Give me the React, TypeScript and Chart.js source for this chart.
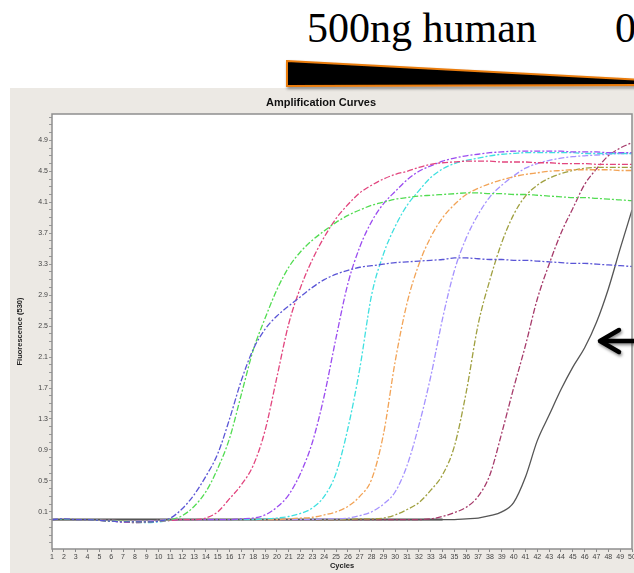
import React, { useEffect, useRef } from "react";
import { Chart, registerables } from "chart.js";

Chart.register(...registerables);

// ---------- data ----------
const cycles = [
  1, 2, 3, 4, 5, 6, 7, 8, 9, 10,
  11, 12, 13, 14, 15, 16, 17, 18, 19, 20,
  21, 22, 23, 24, 25, 26, 27, 28, 29, 30,
  31, 32, 33, 34, 35, 36, 37, 38, 39, 40,
  41, 42, 43, 44, 45, 46, 47, 48, 49, 50,
];

const yTickLabels = [0.1, 0.5, 0.9, 1.3, 1.7, 2.1, 2.5, 2.9, 3.3, 3.7, 4.1, 4.5, 4.9];

const blueValues = [
  0.0, 0.01, 0.0, 0.0, -0.01, -0.02, -0.03, -0.03, -0.03, -0.02,
  0.02, 0.14, 0.32, 0.56, 0.85, 1.3, 1.8, 2.2, 2.46, 2.63,
  2.76, 2.88, 3.0, 3.1, 3.17, 3.22, 3.26, 3.28, 3.3, 3.32,
  3.33, 3.34, 3.35, 3.36, 3.38, 3.38, 3.37, 3.36, 3.36, 3.35,
  3.35, 3.34, 3.33, 3.32, 3.31, 3.31, 3.3, 3.29, 3.28, 3.27,
];
const greenValues = [
  0.0, 0.0, 0.0, 0.0, -0.01, -0.02, -0.02, -0.03, -0.03, -0.02,
  0.0, 0.05, 0.17, 0.36, 0.66, 1.05, 1.62, 2.19, 2.6, 2.97,
  3.26, 3.46, 3.61, 3.73, 3.84, 3.93, 4.0, 4.06, 4.1, 4.14,
  4.16, 4.18, 4.19, 4.2, 4.21, 4.22, 4.22, 4.21, 4.21, 4.2,
  4.2, 4.19, 4.18, 4.17, 4.16, 4.16, 4.15, 4.14, 4.13, 4.12,
];
const pinkValues = [
  0.0, 0.0, 0.0, 0.0, -0.01, -0.02, -0.03, -0.04, -0.03, -0.02,
  -0.01, 0.0, 0.0, 0.02, 0.1, 0.27, 0.45, 0.7, 1.15, 1.84,
  2.53, 3.0, 3.36, 3.65, 3.89, 4.07, 4.22, 4.32, 4.4, 4.46,
  4.5, 4.55, 4.59, 4.61, 4.62, 4.63, 4.63, 4.63, 4.62, 4.62,
  4.62, 4.61, 4.61, 4.6, 4.6, 4.6, 4.59, 4.59, 4.59, 4.59,
];
const violetValues = [
  0.0, 0.0, 0.0, 0.0, -0.01, -0.02, -0.03, -0.03, -0.03, -0.02,
  -0.01, 0.0, 0.0, 0.0, 0.0, 0.0, 0.01, 0.02, 0.06, 0.16,
  0.32, 0.6, 1.0, 1.6, 2.35, 3.05, 3.52, 3.85, 4.08, 4.24,
  4.39, 4.5, 4.57, 4.63, 4.67, 4.7, 4.72, 4.74, 4.75, 4.76,
  4.76, 4.76, 4.76, 4.76, 4.75, 4.75, 4.75, 4.74, 4.74, 4.74,
];
const cyanValues = [
  0.0, 0.0, 0.0, 0.0, -0.01, -0.02, -0.03, -0.04, -0.04, -0.03,
  -0.01, 0.0, 0.0, 0.0, 0.0, 0.0, 0.0, 0.0, 0.01, 0.02,
  0.04, 0.08, 0.15, 0.3, 0.6, 1.18, 1.95, 2.9, 3.43, 3.79,
  4.06, 4.25, 4.42, 4.53, 4.6, 4.64, 4.67, 4.7, 4.72, 4.73,
  4.74, 4.74, 4.74, 4.74, 4.74, 4.73, 4.73, 4.73, 4.73, 4.73,
];
const orangeValues = [
  0.0, 0.0, 0.0, 0.0, -0.01, -0.02, -0.02, -0.03, -0.03, -0.02,
  -0.01, 0.0, 0.0, 0.0, 0.0, 0.0, 0.0, 0.0, 0.0, 0.0,
  0.01, 0.02, 0.03, 0.06, 0.1, 0.17, 0.3, 0.52, 1.1, 2.05,
  2.8, 3.3, 3.65, 3.9, 4.07, 4.2, 4.28, 4.34, 4.39, 4.43,
  4.46, 4.48, 4.5, 4.51, 4.52, 4.52, 4.52, 4.52, 4.51, 4.51,
];
const lavenderValues = [
  0.0, 0.0, 0.0, 0.0, -0.01, -0.01, -0.02, -0.02, -0.02, -0.01,
  0.0, 0.0, 0.0, 0.0, 0.0, 0.0, 0.0, 0.0, 0.0, 0.0,
  0.0, 0.0, 0.0, 0.01, 0.01, 0.02, 0.05, 0.1, 0.2, 0.36,
  0.7, 1.22, 1.85, 2.6, 3.22, 3.64, 3.94, 4.17, 4.32, 4.44,
  4.54, 4.6, 4.64, 4.67, 4.69, 4.7, 4.71, 4.72, 4.73, 4.73,
];
const oliveValues = [
  0.0, 0.0, 0.0, 0.0, -0.01, -0.01, -0.02, -0.02, -0.02, -0.01,
  0.0, 0.0, 0.0, 0.0, 0.0, 0.0, 0.0, 0.0, 0.0, 0.0,
  0.0, 0.0, 0.0, 0.0, 0.0, 0.0, 0.01, 0.01, 0.02, 0.06,
  0.13, 0.22, 0.38, 0.58, 0.95, 1.65, 2.52, 3.1, 3.58, 3.94,
  4.18, 4.32, 4.41, 4.47, 4.51, 4.54, 4.55, 4.55, 4.55, 4.55,
];
const maroonValues = [
  0.0, 0.0, 0.0, 0.0, -0.01, -0.01, -0.02, -0.02, -0.02, -0.01,
  0.0, 0.0, 0.0, 0.0, 0.0, 0.0, 0.0, 0.0, 0.0, 0.0,
  0.0, 0.0, 0.0, 0.0, 0.0, 0.0, 0.0, 0.0, 0.0, 0.0,
  0.0, 0.0, 0.01, 0.04, 0.09, 0.16, 0.3, 0.58, 1.12, 1.7,
  2.25, 2.85, 3.3, 3.7, 4.02, 4.33, 4.53, 4.7, 4.8, 4.87,
];
const blackValues = [
  0.0, 0.0, 0.0, 0.0, 0.0, 0.0, 0.0, 0.0, 0.0, 0.0,
  0.0, 0.0, 0.0, 0.0, 0.0, 0.0, 0.0, 0.0, 0.0, 0.0,
  0.0, 0.0, 0.0, 0.0, 0.0, 0.0, 0.0, 0.0, 0.0, 0.0,
  0.0, 0.0, 0.0, 0.0, 0.0, 0.01, 0.02, 0.05, 0.1, 0.22,
  0.55, 1.02, 1.35, 1.68, 1.97, 2.22, 2.55, 2.98, 3.5, 4.0,
];
const ntcValues = [
  0.0, 0.0, 0.0, 0.0, 0.0, 0.0, 0.0, 0.0, 0.0, 0.0,
  0.0, 0.0, 0.0, 0.0, 0.0, 0.0, 0.0, 0.0, 0.0, 0.0,
  0.0, 0.0, 0.0, 0.0, 0.0, 0.0, 0.0, 0.0, 0.0, 0.0,
  0.0, 0.0, 0.0, 0.0,
];

const PANEL = "#ece9e4";
const FONT = "'Liberation Sans', Arial, sans-serif";

const DASH = [6, 2, 2, 2];

const seriesDefs = [
  { label: "S1", values: blueValues, color: "#5a55d6", dash: DASH, width: 1.3 },
  { label: "S2", values: greenValues, color: "#52dc52", dash: DASH, width: 1.3 },
  { label: "S3", values: pinkValues, color: "#e2457e", dash: DASH, width: 1.3 },
  { label: "S4", values: violetValues, color: "#9b4cf0", dash: DASH, width: 1.3 },
  { label: "S5", values: cyanValues, color: "#3fe0e0", dash: DASH, width: 1.3 },
  { label: "S6", values: orangeValues, color: "#f2a356", dash: DASH, width: 1.3 },
  { label: "S7", values: lavenderValues, color: "#a592ff", dash: DASH, width: 1.3 },
  { label: "S8", values: oliveValues, color: "#a0a040", dash: DASH, width: 1.3 },
  { label: "S9", values: maroonValues, color: "#a63a6a", dash: DASH, width: 1.3 },
  { label: "S10", values: blackValues, color: "#555555", dash: [], width: 1.3 },
  { label: "NTC", values: ntcValues, color: "#a5a5a5", dash: [], width: 3 },
];

function App() {
  const canvasRef = useRef<HTMLCanvasElement | null>(null);

  useEffect(() => {
    const canvas = canvasRef.current;
    if (!canvas) return;

    const bgPlugin = {
      id: "panelBg",
      beforeDraw(chart: any) {
        const c = chart.ctx;
        const a = chart.chartArea;
        c.save();
        c.fillStyle = PANEL;
        c.fillRect(0, 0, chart.width, chart.height);
        c.fillStyle = "#ffffff";
        c.fillRect(a.left, a.top, a.right - a.left, a.bottom - a.top);
        c.restore();
      },
      afterDraw(chart: any) {
        const c = chart.ctx;
        const a = chart.chartArea;
        c.save();
        c.strokeStyle = "#8e8e8e";
        c.lineWidth = 1.5;
        c.strokeRect(a.left, a.top, a.right - a.left, a.bottom - a.top);
        c.restore();
      },
    };

    const minorTicks: number[] = [];
    for (let k = -3; k <= 52; k++) minorTicks.push(Number((k / 10).toFixed(1)));

    const chart = new Chart(canvas, {
      type: "line",
      data: {
        datasets: seriesDefs.map((s) => ({
          label: s.label,
          data: s.values.map((v, i) => ({ x: cycles[i], y: v })),
          borderColor: s.color,
          borderWidth: s.width,
          borderDash: s.dash,
          pointRadius: 0,
          fill: false,
          cubicInterpolationMode: "monotone" as const,
        })),
      },
      options: {
        animation: false,
        responsive: false,
        devicePixelRatio: 1,
        layout: { padding: { left: 0, right: 18, top: 0, bottom: 0 } },
        plugins: {
          legend: { display: false },
          tooltip: { enabled: false },
          title: {
            display: true,
            text: "Amplification Curves",
            color: "#111111",
            font: { family: FONT, size: 11, weight: "bold" },
            padding: { top: 8.5, bottom: 4.3 },
          },
        },
        scales: {
          x: {
            type: "linear",
            min: 1,
            max: 50,
            afterBuildTicks: (scale: any) => {
              scale.ticks = cycles.map((c) => ({ value: c }));
            },
            afterFit: (scale: any) => {
              scale.height = 24;
            },
            ticks: {
              autoSkip: false,
              maxRotation: 0,
              minRotation: 0,
              padding: 1,
              color: "#444444",
              font: { family: FONT, size: 7 },
              callback: (v: any) => String(v),
            },
            grid: {
              display: true,
              drawOnChartArea: false,
              drawTicks: true,
              tickLength: 3,
              tickColor: "#888888",
            },
            border: { display: false },
            title: {
              display: true,
              text: "Cycles",
              color: "#222222",
              font: { family: FONT, size: 7.5, weight: "bold" },
              padding: { top: 0, bottom: 2.5 },
            },
          },
          y: {
            type: "linear",
            min: -0.38,
            max: 5.24,
            afterBuildTicks: (scale: any) => {
              scale.ticks = minorTicks.map((v) => ({ value: v }));
            },
            afterFit: (scale: any) => {
              scale.width = 42;
            },
            ticks: {
              autoSkip: false,
              padding: 1,
              color: "#444444",
              font: { family: FONT, size: 7 },
              callback: (v: any) => {
                const hit = yTickLabels.find((t) => Math.abs(t - Number(v)) < 1e-6);
                return hit === undefined ? "" : hit.toFixed(1);
              },
            },
            grid: {
              display: true,
              drawOnChartArea: false,
              drawTicks: true,
              tickLength: 3,
              tickColor: "#999999",
            },
            border: { display: false },
            title: {
              display: true,
              text: "Fluorescence (530)",
              color: "#222222",
              font: { family: FONT, size: 7.5, weight: "bold" },
              padding: { top: 5.5, bottom: 0 },
            },
          },
        },
      },
      plugins: [bgPlugin],
    });

    return () => {
      chart.destroy();
    };
  }, []);

  return (
    <div
      style={{
        position: "fixed",
        left: 0,
        top: 0,
        width: 634,
        height: 573,
        overflow: "hidden",
        background: "#ffffff",
      }}
    >
      <canvas
        ref={canvasRef}
        width={640}
        height={485}
        style={{ position: "absolute", left: 10, top: 88, width: 640, height: 485 }}
      />
      <div
        style={{
          position: "absolute",
          left: 307,
          top: 7,
          fontFamily: "'Liberation Serif', 'Times New Roman', serif",
          fontSize: 42,
          lineHeight: "42px",
          color: "#000",
          whiteSpace: "nowrap",
        }}
      >
        500ng human
      </div>
      <div
        style={{
          position: "absolute",
          left: 615,
          top: 7,
          fontFamily: "'Liberation Serif', 'Times New Roman', serif",
          fontSize: 42,
          lineHeight: "42px",
          color: "#000",
          whiteSpace: "nowrap",
        }}
      >
        0
      </div>
      <svg
        width={634}
        height={573}
        style={{ position: "absolute", left: 0, top: 0, pointerEvents: "none" }}
      >
        <defs>
          <filter id="sh" x="-10%" y="-50%" width="120%" height="300%">
            <feDropShadow dx="1" dy="2" stdDeviation="1.5" floodColor="#000" floodOpacity="0.45" />
          </filter>
        </defs>
        <polygon
          points="287,61 645,80 645,85 287,86"
          fill="#000000"
          stroke="#ea7d10"
          strokeWidth={2}
          strokeLinejoin="miter"
          filter="url(#sh)"
        />
        <g filter="url(#sh)" stroke="#000" strokeWidth={4.5} fill="none" strokeLinecap="round" strokeLinejoin="round">
          <line x1={601} y1={341} x2={640} y2={341} />
          <polyline points="619,330 600,341 619,352" />
        </g>
      </svg>
    </div>
  );
}

export default App;
